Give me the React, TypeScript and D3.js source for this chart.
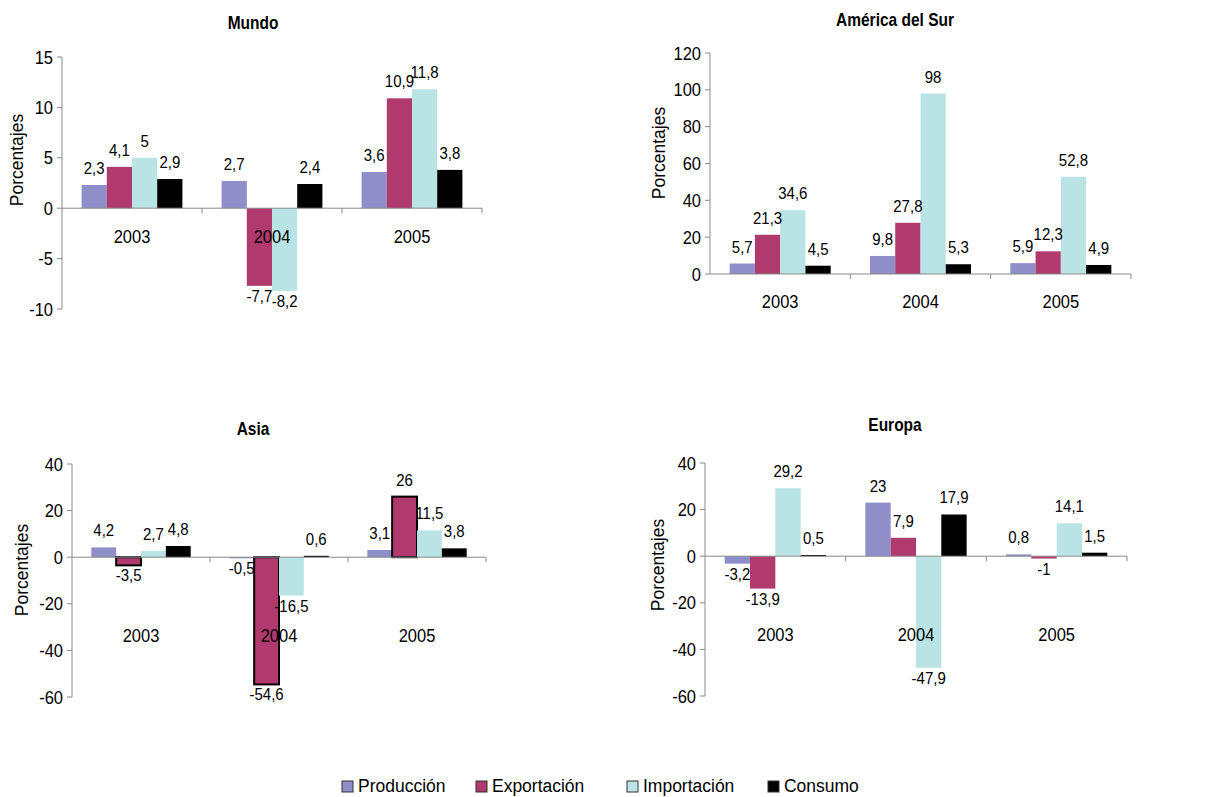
import React from 'react';
import * as d3 from 'd3';

// ---------- DATA ----------
const years = ['2003', '2004', '2005'];
const seriesNames = ['Producción', 'Exportación', 'Importación', 'Consumo'];
const seriesColors = ['#8E8EC9', '#B0396D', '#B9E3E4', '#000000'];

// series order: Producción, Exportación, Importación, Consumo
const mundoValues = [
  [2.3, 2.7, 3.6],
  [4.1, -7.7, 10.9],
  [5, -8.2, 11.8],
  [2.9, 2.4, 3.8],
];
const surValues = [
  [5.7, 9.8, 5.9],
  [21.3, 27.8, 12.3],
  [34.6, 98, 52.8],
  [4.5, 5.3, 4.9],
];
const asiaValues = [
  [4.2, -0.5, 3.1],
  [-3.5, -54.6, 26],
  [2.7, -16.5, 11.5],
  [4.8, 0.6, 3.8],
];
const europaValues = [
  [-3.2, 23, 0.8],
  [-13.9, 7.9, -1],
  [29.2, -47.9, 14.1],
  [0.5, 17.9, 1.5],
];

const mundoTicks = [-10, -5, 0, 5, 10, 15];
const surTicks = [0, 20, 40, 60, 80, 100, 120];
const asiaTicks = [-60, -40, -20, 0, 20, 40];
const europaTicks = [-60, -40, -20, 0, 20, 40];

const yAxisTitle = 'Porcentajes';

// ---------- LAYOUT ----------
const FONT = '"Liberation Sans", Arial, Helvetica, sans-serif';
const SY = 1.15;

const panels = [
  {
    title: 'Mundo', values: mundoValues, ticks: mundoTicks,
    axisX: 62, xEnd: 482, yTopPx: 57, yBotPx: 309,
    titleX: 253, titleY: 29, ylabX: 17, ylabY: 160, yearY: 243, outlineSeries: -1,
  },
  {
    title: 'América del Sur', values: surValues, ticks: surTicks,
    axisX: 710, xEnd: 1131, yTopPx: 53, yBotPx: 274,
    titleX: 895, titleY: 26, ylabX: 659, ylabY: 153, yearY: 308, outlineSeries: -1,
  },
  {
    title: 'Asia', values: asiaValues, ticks: asiaTicks,
    axisX: 72, xEnd: 486, yTopPx: 464, yBotPx: 697,
    titleX: 253, titleY: 435, ylabX: 22, ylabY: 570, yearY: 642, outlineSeries: 1,
  },
  {
    title: 'Europa', values: europaValues, ticks: europaTicks,
    axisX: 705, xEnd: 1127, yTopPx: 463, yBotPx: 696,
    titleX: 895, titleY: 431, ylabX: 658, ylabY: 565, yearY: 641, outlineSeries: -1,
  },
];

const fmt = (v: number) => String(v).replace('.', ',');
const AXIS = '#8a8a8a';

function T({ x, y, sy = SY, children, ...rest }: any) {
  return (
    <text transform={`translate(${x},${y}) scale(1,${sy})`} fontFamily={FONT} fill="#000" {...rest}>
      {children}
    </text>
  );
}

function Panel({ p }: { p: any }) {
  const ext = d3.extent(p.ticks as number[]) as [number, number];
  const y = d3.scaleLinear().domain(ext).range([p.yBotPx, p.yTopPx]);
  const x = d3.scaleBand<string>().domain(years).range([p.axisX, p.xEnd])
    .paddingInner(0.28).paddingOuter(0.14);
  const xs = d3.scaleBand<number>().domain(d3.range(seriesNames.length))
    .range([0, x.bandwidth()]);
  const step = x.step();
  const y0 = y(0);

  return (
    <g>
      <T x={p.titleX} y={p.titleY} textAnchor="middle" fontWeight="bold" fontSize={15.5}>{p.title}</T>
      <text transform={`translate(${p.ylabX},${p.ylabY}) rotate(-90)`} textAnchor="middle"
        dominantBaseline="central" fontSize={17.5} fontFamily={FONT} fill="#000">{yAxisTitle}</text>

      {/* bars */}
      {p.values.map((ser: number[], si: number) =>
        ser.map((v: number, yi: number) => {
          const bx = (x(years[yi]) as number) + (xs(si) as number);
          const top = Math.min(y(v), y0);
          const h = Math.abs(y(v) - y0);
          const outlined = si === p.outlineSeries;
          return (
            <rect key={`b${si}-${yi}`} x={bx} y={top} width={xs.bandwidth()} height={Math.max(h, 0.8)}
              fill={seriesColors[si]} stroke={outlined ? '#000' : 'none'} strokeWidth={outlined ? 2 : 0} />
          );
        })
      )}

      {/* y axis */}
      <line x1={p.axisX} x2={p.axisX} y1={p.yTopPx} y2={p.yBotPx} stroke={AXIS} strokeWidth={1} />
      {p.ticks.map((t: number) => (
        <g key={`t${t}`}>
          <line x1={p.axisX - 5} x2={p.axisX} y1={y(t)} y2={y(t)} stroke={AXIS} strokeWidth={1} />
          <T x={p.axisX - 9} y={y(t) + 6.5} textAnchor="end" fontSize={16.5}>{t}</T>
        </g>
      ))}

      {/* x axis */}
      <line x1={p.axisX} x2={p.xEnd} y1={y0} y2={y0} stroke={AXIS} strokeWidth={1} />
      {years.map((yr, i) => (
        <line key={`xt${yr}`} x1={p.axisX + (i + 1) * step} x2={p.axisX + (i + 1) * step}
          y1={y0} y2={y0 + 5} stroke={AXIS} strokeWidth={1} />
      ))}
      {years.map((yr) => (
        <T key={`yl${yr}`} x={(x(yr) as number) + x.bandwidth() / 2} y={p.yearY}
          textAnchor="middle" fontSize={16.5}>{yr}</T>
      ))}

      {/* data labels */}
      {p.values.map((ser: number[], si: number) =>
        ser.map((v: number, yi: number) => {
          const cx = (x(years[yi]) as number) + (xs(si) as number) + xs.bandwidth() / 2;
          const ly = v >= 0 ? y(v) - 11 : y(v) + 16;
          return (
            <T key={`l${si}-${yi}`} x={cx} y={ly} sy={1.08} textAnchor="middle" fontSize={15}>{fmt(v)}</T>
          );
        })
      )}
    </g>
  );
}

const legendSquareX = [342, 476, 627, 768];

export default function App() {
  return (
    <svg width={1214} height={797} style={{ position: 'absolute', left: 0, top: 0, background: '#fff' }}>
      <rect x={0} y={0} width={1214} height={797} fill="#fff" />
      {panels.map((p) => <Panel key={p.title} p={p} />)}
      {seriesNames.map((n, i) => (
        <g key={n}>
          <rect x={legendSquareX[i]} y={781} width={11} height={11} fill={seriesColors[i]}
            stroke="#333" strokeWidth={1} />
          <T x={legendSquareX[i] + 16} y={792} sy={1.1} fontSize={17.5}>{n}</T>
        </g>
      ))}
    </svg>
  );
}
